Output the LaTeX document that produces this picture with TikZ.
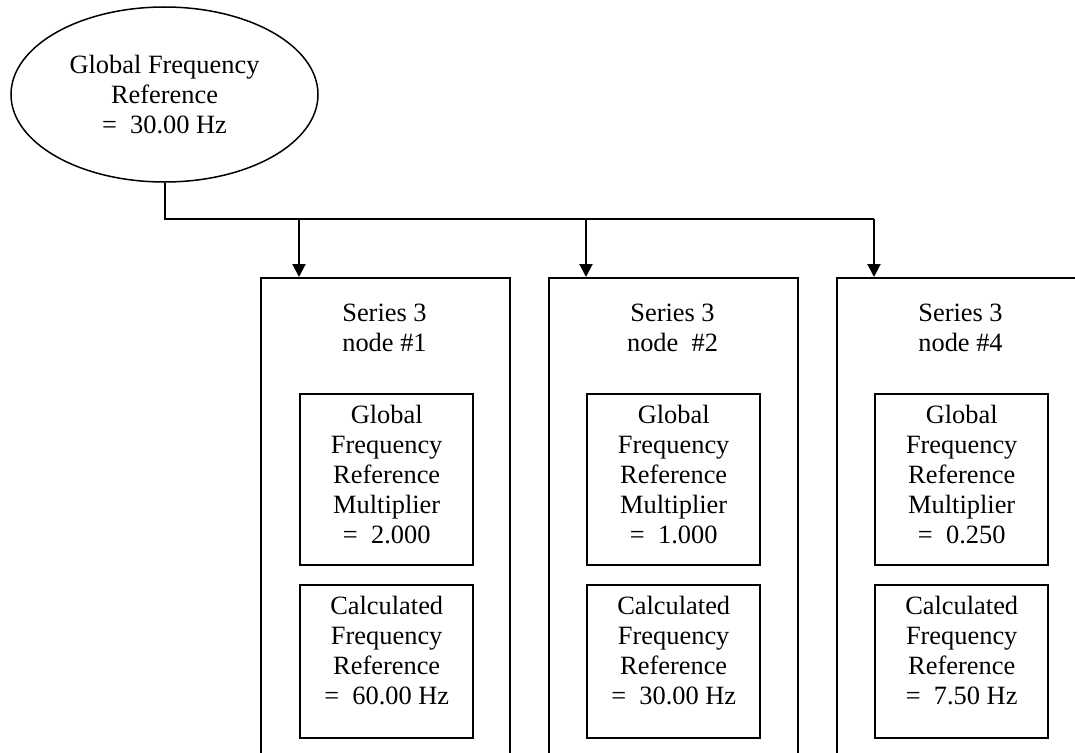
\documentclass[tikz,border=0pt]{standalone}
\usepackage{fontspec}
\setmainfont{Liberation Serif}
\usepackage{tikz}
\usetikzlibrary{arrows.meta,shapes.geometric}

\tikzset{
  unitbox/.style={draw, line width=2.4pt, rectangle, inner sep=0pt, anchor=north west,
    minimum width=249pt, minimum height=600pt},
  multbox/.style={draw, line width=2.4pt, rectangle, inner sep=0pt, anchor=north west, align=center,
    minimum width=173pt, minimum height=171pt, text depth=11pt},
  calcbox/.style={draw, line width=2.4pt, rectangle, inner sep=0pt, anchor=north west, align=center,
    minimum width=173pt, minimum height=153pt, text depth=23pt},
  title/.style={anchor=north, inner sep=0pt, align=center},
  feed/.style={line width=2pt, -{Triangle[length=13pt,width=13pt]}}
}

\begin{document}
\begin{tikzpicture}[x=1pt, y=-1pt, font=\fontsize{26.4}{30}\selectfont]
\path[use as bounding box] (0,0) rectangle (1075,752);
\clip (0,0) rectangle (1075,752);

\node [ellipse, draw, line width=1.5pt, inner sep=0pt, minimum width=307pt, minimum height=175pt, align=center]
  (gfr) at (164.5,94.5) {Global Frequency\\Reference\\=\ \ 30.00 Hz};

\node [unitbox] (unit1) at (260,277) {};
\node [title] (title1) at (384.5,304) {Series 3\\node \#1};
\node [multbox] (mult1) at (299,393) {Global\\Frequency\\Reference\\Multiplier\\=\ \ 2.000};
\node [calcbox] (calc1) at (299,584) {Calculated\\Frequency\\Reference\\=\ \ 60.00 Hz};

\node [unitbox] (unit2) at (548,277) {};
\node [title] (title2) at (672.5,304) {Series 3\\node\ \ \#2};
\node [multbox] (mult2) at (586,393) {Global\\Frequency\\Reference\\Multiplier\\=\ \ 1.000};
\node [calcbox] (calc2) at (586,584) {Calculated\\Frequency\\Reference\\=\ \ 30.00 Hz};

\node [unitbox] (unit4) at (836,277) {};
\node [title] (title4) at (960.5,304) {Series 3\\node \#4};
\node [multbox] (mult4) at (874,393) {Global\\Frequency\\Reference\\Multiplier\\=\ \ 0.250};
\node [calcbox] (calc4) at (874,584) {Calculated\\Frequency\\Reference\\=\ \ 7.50 Hz};

% bus from the reference to the nodes
\coordinate (bus) at (164.5,219);
\draw [line width=2pt] (gfr.south) |- (mult4.north west |- bus);
\foreach \i in {1,2,4}
  \draw [feed] (mult\i.north west |- bus) -- (mult\i.north west |- unit\i.north);

\end{tikzpicture}
\end{document}
